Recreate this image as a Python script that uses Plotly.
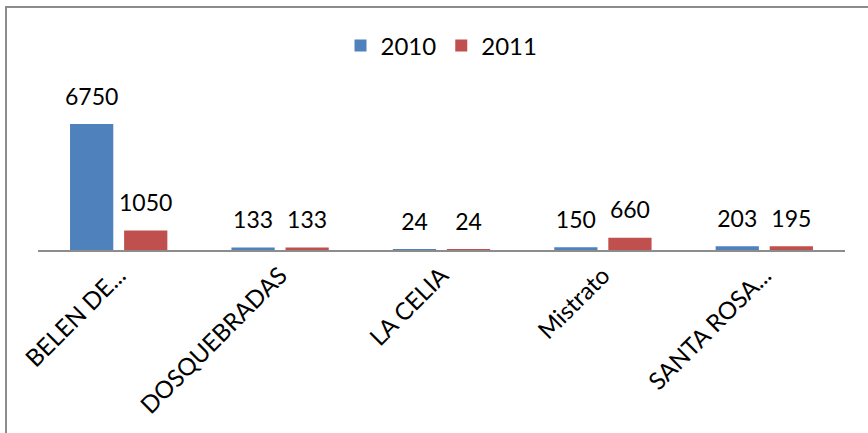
import plotly.graph_objects as go

# Municipios y valores por año
categorias = ["BELEN DE...", "DOSQUEBRADAS", "LA CELIA", "Mistrato", "SANTA ROSA..."]
valores_2010 = [6750, 133, 24, 150, 203]
valores_2011 = [1050, 133, 24, 660, 195]

AZUL = "#4F81BD"
ROJO = "#C0504D"
FUENTE = "Lato"

W, H = 868, 433
PLOT_L, PLOT_R = 38, 845       # left/right edge of the plot area (px)
PLOT_T, PLOT_B = 50, 250       # top/bottom edge of the plot area (px)
Y_MAX = 10714
HUECO = 0.33                   # gap between category groups

fig = go.Figure()

for nombre, valores, color in [("2010", valores_2010, AZUL), ("2011", valores_2011, ROJO)]:
    fig.add_trace(go.Bar(
        name=nombre, x=categorias, y=valores,
        marker=dict(color=color, line=dict(width=0)),
        offsetgroup=nombre, alignmentgroup="g",
        hoverinfo="x+y",
    ))

# Value labels sitting above each bar
for nombre, valores in [("2010", valores_2010), ("2011", valores_2011)]:
    fig.add_trace(go.Scatter(
        x=categorias, y=valores, mode="markers+text",
        text=[str(v) for v in valores], textposition="top center",
        textfont=dict(family=FUENTE, size=23, color="black"),
        marker=dict(size=20, opacity=0),
        orientation="v", offsetgroup=nombre, alignmentgroup="g",
        showlegend=False, hoverinfo="skip", cliponaxis=False,
    ))

def px_x(p):
    return (p - PLOT_L) / (PLOT_R - PLOT_L)

def px_y(p):
    return (PLOT_B - p) / (PLOT_B - PLOT_T)

# Outer chart frame
fig.add_shape(type="rect", xref="paper", yref="paper",
              x0=px_x(6), x1=px_x(880), y0=px_y(445), y1=px_y(7),
              line=dict(color="#8C8C8C", width=2), fillcolor="rgba(0,0,0,0)",
              layer="below")

fig.update_layout(
    width=W, height=H,
    margin=dict(l=PLOT_L, r=W - PLOT_R, t=PLOT_T, b=H - PLOT_B, pad=0),
    paper_bgcolor="white", plot_bgcolor="white",
    barmode="group", bargap=HUECO, bargroupgap=0.2,
    scattermode="group", scattergap=HUECO,
    font=dict(family=FUENTE, color="black"),
    legend=dict(orientation="h", x=0.5, xanchor="center",
                y=px_y(46), yanchor="middle",
                font=dict(family=FUENTE, size=24, color="black"),
                itemwidth=30, traceorder="normal"),
    xaxis=dict(
        tickangle=-45, tickfont=dict(family=FUENTE, size=24, color="black"),
        showline=True, linecolor="#8C8C8C", linewidth=2,
        ticks="", showgrid=False, zeroline=False,
    ),
    yaxis=dict(range=[0, Y_MAX], visible=False, showgrid=False, zeroline=False),
    showlegend=True,
)

fig.write_html("out.html")
